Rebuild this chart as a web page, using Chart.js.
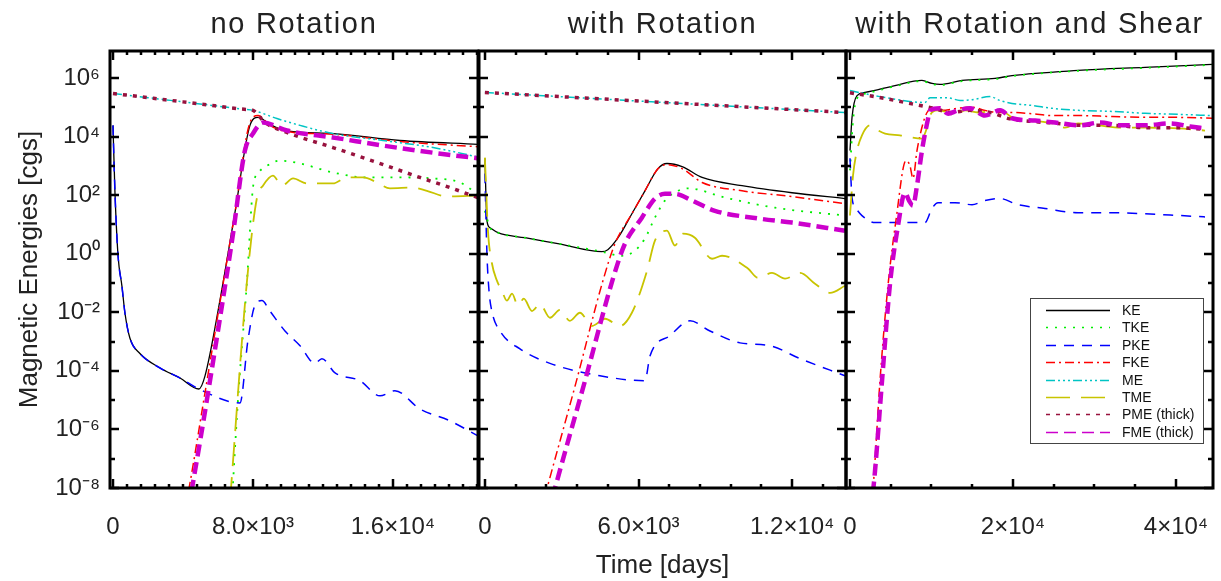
<!DOCTYPE html>
<html>
<head>
<meta charset="utf-8">
<script src="https://cdn.jsdelivr.net/npm/chart.js@4.4.1/dist/chart.umd.min.js"></script>
<style>
  body { margin: 0; background: #fff; }
  #wrap { position: relative; width: 1221px; height: 581px; }
  #wrap canvas { position: absolute; left: 0; top: 0; }
</style>
</head>
<body>
<div id="wrap">
  <canvas id="chart1" width="1221" height="581"></canvas>
  <canvas id="chart2" width="1221" height="581"></canvas>
  <canvas id="chart3" width="1221" height="581"></canvas>
</div>
<script>
// [time in days, energy in cgs]

// panel 1 : no Rotation
const noRotKE = [[0,2.4e4],[110,1.4e2],[290,0.85],[510,0.08],[690,8.9e-3],[970,1.3e-3],[1540,3.9e-4],[2690,1.25e-4],[3830,5.7e-5],[4910,2.4e-5],[5260,6.7e-5],[6110,0.025],[6970,25],[7830,2.4e4],[8290,4.5e4],[8970,2.6e4],[9830,1.6e4],[12570,1.26e4],[16400,7.3e3],[20860,5.4e3]];
const noRotTKE = [[6800,3.6e-9],[7140,9.4e-6],[7660,0.12],[8000,180],[8290,550],[8800,1.0e3],[9540,1.5e3],[10690,1.2e3],[12570,590],[14510,400],[16400,400],[18290,370],[19830,270],[20860,105]];
const noRotPKE = [[0,2.4e4],[110,1.4e2],[290,0.85],[510,0.08],[690,8.9e-3],[970,1.3e-3],[1540,3.9e-4],[2690,1.25e-4],[3830,5.7e-5],[4910,2.4e-5],[7260,8e-6],[7710,1.07e-3],[8110,0.017],[8510,0.025],[8970,0.011],[9830,2.3e-3],[10690,7.2e-4],[11540,1.8e-4],[11940,2.6e-4],[12690,8.5e-5],[14110,4.6e-5],[15260,1.4e-5],[16110,2.1e-5],[17540,5e-6],[19260,1.95e-6],[20860,6e-7]];
const noRotFKE = [[4110,1.9e-9],[4340,9.3e-9],[5260,1.8e-5],[6110,0.021],[6970,25],[7830,3e4],[8290,5.2e4],[8970,2.4e4],[9830,1.5e4],[12570,1.2e4],[16400,6.7e3],[20860,4.5e3]];
const noRotME = [[0,2.95e5],[2000,2.12e5],[4000,1.52e5],[6000,1.09e5],[7500,8.5e4],[8000,7.8e4],[9370,4.1e4],[10690,2.4e4],[12570,1.26e4],[15430,7.3e3],[18290,4.2e3],[20860,2.0e3]];
const noRotTME = [[6690,3.6e-9],[7660,0.12],[8230,82],[8570,210],[9140,460],[9660,210],[10290,370],[11090,250],[11830,250],[12570,250],[13370,400],[14290,400],[15090,270],[15830,170],[17140,180],[17940,140],[19090,90],[20860,96]];
const noRotPME = [[0,2.95e5],[2000,2.12e5],[4000,1.52e5],[6000,1.09e5],[7500,8.5e4],[8000,7.8e4],[8690,3.0e4],[10110,1.26e4],[12570,4.2e3],[15090,1.3e3],[17540,4.0e2],[19260,1.8e2],[20860,82]];
const noRotFME = [[4290,1.9e-9],[4510,9.3e-9],[6510,0.2],[6860,4.8],[7540,3.3e3],[8000,1.26e4],[8570,3e4],[9940,1.6e4],[12570,9.3e3],[15430,4.9e3],[18290,2.8e3],[20860,1.8e3]];

// panel 2 : with Rotation
const rotKE = [[0,1.8e3],[80,13.5],[200,7.7],[510,5.2],[1560,3.5],[2850,2.2],[4570,1.17],[4800,1.37],[5200,3.5],[5740,23],[6250,140],[6760,800],[7110,1.2e3],[7700,940],[8480,400],[10040,210],[11990,120],[14060,76]];
const rotTKE = [[0,29],[200,7.7],[510,5.2],[1560,3.5],[2850,2.2],[4570,1.17],[5350,0.85],[5860,1.27],[6250,3.3],[6640,17],[7030,65],[7540,140],[7930,170],[9380,82],[11330,37],[14060,20]];
const rotPKE = [[0,550],[80,1],[160,0.055],[270,0.011],[590,2.3e-3],[1370,5.6e-4],[2540,1.8e-4],[4490,6.8e-5],[6250,4.6e-5],[6450,3.3e-4],[7230,1.6e-3],[8010,5.1e-3],[8790,2.3e-3],[9960,9e-4],[11130,7.2e-4],[12310,2.6e-4],[14060,6.8e-5]];
const rotFKE = [[2150,1.2e-9],[2420,9.3e-9],[3520,3e-5],[4610,0.12],[5080,2.2],[5740,23],[6250,140],[6760,800],[7110,1.1e3],[7700,800],[8480,270],[10040,140],[11990,89],[14060,51]];
const rotME = [[0,3.2e5],[7030,1.45e5],[14060,6.6e4]];
const rotTME = [[0,1.9e3],[120,6.1],[270,0.49],[470,0.12],[660,0.055],[860,0.025],[1060,0.043],[1290,0.017],[1520,0.029],[1840,0.011],[2150,0.019],[2540,6.5e-3],[2930,0.012],[3320,5.1e-3],[3710,9.6e-3],[4180,3.4e-3],[4690,6e-3],[5270,3.4e-3],[5740,9.6e-3],[6330,0.26],[6640,2.8],[7110,6.1],[7420,1.9],[7730,4.8],[8200,3.5],[8870,0.67],[9260,0.85],[10270,0.31],[10660,0.15],[11210,0.22],[11720,0.14],[12310,0.22],[12890,0.094],[13480,0.046],[14060,0.08]];
const rotPME = [[0,3.2e5],[7030,1.45e5],[14060,6.6e4]];
const rotFME = [[2460,1.2e-9],[2730,9.3e-9],[3910,4.6e-5],[5000,0.14],[5470,2.2],[6130,17],[6640,76],[7030,110],[7420,110],[8090,65],[8980,29],[10660,16],[11990,11.5],[14060,6.1]];

// panel 3 : with Rotation and Shear
const shearKE = [[0,3.3e3],[250,4.5e4],[860,2.5e5],[1840,3.2e5],[5520,5.5e5],[8830,8.2e5],[10060,6.5e5],[11040,6e5],[13740,8.2e5],[17790,9.6e5],[19880,1.2e6],[27980,1.8e6],[36200,2.3e6],[44420,2.9e6]];
const shearTKE = [[0,700],[370,3.5e4],[860,2e5],[1840,2.9e5],[5520,5.2e5],[8830,7.8e5],[10060,6.2e5],[11040,5.7e5],[13740,7.8e5],[17790,9.2e5],[19880,1.15e6],[27980,1.75e6],[36200,2.2e6],[44420,2.8e6]];
const shearPKE = [[0,1.8e3],[250,82],[740,35],[1470,20],[3070,11.5],[5890,11.5],[9200,11.5],[10060,35],[10800,55],[12880,55],[14970,47],[16560,65],[18410,76],[20610,47],[23930,35],[27980,25],[32150,25],[36200,23],[40490,20],[43560,18]];
const shearFKE = [[2450,1.7e-9],[2820,9.3e-9],[3680,4.6e-5],[4660,0.08],[5640,13.5],[6870,1.5e3],[7360,1e3],[7730,370],[8220,3.3e3],[8960,2.8e4],[9450,6.6e4],[10060,9.2e4],[11290,7.8e4],[13250,9.2e4],[14970,1.0e5],[16560,7.8e4],[18160,6.6e4],[19880,6.6e4],[22330,6.0e4],[24790,5.2e4],[27980,5.2e4],[32150,4.8e4],[36200,4.5e4],[40250,4.5e4],[44420,4.2e4]];
const shearME = [[0,3.7e5],[3680,2.3e5],[9200,1.45e5],[9820,2.1e5],[12030,2.1e5],[13500,1.7e5],[14970,1.8e5],[17180,2.3e5],[18410,1.7e5],[19880,1.35e5],[22330,1.15e5],[24790,9.2e4],[27980,7.8e4],[32150,7.2e4],[36200,6.2e4],[40250,5.7e4],[44420,5.2e4]];
const shearTME = [[0,20],[370,460],[860,3.3e3],[1470,1.1e4],[2450,2.4e4],[3310,1.7e4],[4300,1.26e4],[6140,1.1e4],[8830,8.5e3],[9330,1.6e4],[9820,5.2e4],[10680,7.8e4],[12030,6.6e4],[12880,5.2e4],[14110,7.8e4],[15710,6.6e4],[18160,7.8e4],[19020,6.6e4],[19880,4.5e4],[22330,3.5e4],[24790,2.8e4],[26380,2.0e4],[27980,2.8e4],[30430,2.4e4],[33380,2.0e4],[36200,2.0e4],[40250,1.9e4],[43560,1.6e4]];
const shearPME = [[0,3.1e5],[3440,2.2e5],[7610,1.3e5],[9200,1.06e5],[10430,9e4],[12270,6.6e4],[14720,7.8e4],[17180,6.6e4],[19630,4e4],[22700,3.2e4],[25520,2.8e4],[28220,2.4e4],[32150,2.4e4],[36200,2.0e4],[40250,2.0e4],[43560,1.75e4]];
const shearFME = [[2580,1.6e-9],[3070,3.8e-8],[3930,4.6e-5],[4910,0.094],[5890,9],[6750,120],[7240,65],[7730,44],[8220,210],[8830,3.3e3],[9570,4e4],[9820,7.8e4],[11040,9.2e4],[12030,6e4],[13250,7.8e4],[14720,9.2e4],[16560,5.2e4],[18410,7.8e4],[19880,4.2e4],[22700,3.5e4],[25150,3.0e4],[28220,2.4e4],[30680,3.0e4],[33130,2.4e4],[36200,2.4e4],[39270,2.8e4],[41720,2.2e4],[43560,1.9e4]];

// tick values and labels
const yTickValues = [1e-8, 1e-6, 1e-4, 1e-2, 1, 1e2, 1e4, 1e6];
const noRotXTicks = [0, 8000, 16000];
const noRotXLabels = ['0', '8.0×10³', '1.6×10⁴'];
const rotXTicks = [0, 6000, 12000];
const rotXLabels = ['0', '6.0×10³', '1.2×10⁴'];
const shearXTicks = [0, 20000, 40000];
const shearXLabels = ['0', '2×10⁴', '4×10⁴'];

const seriesNames = ['KE', 'TKE', 'PKE', 'FKE', 'ME', 'TME', 'PME (thick)', 'FME (thick)'];
const seriesColors = ['#000000', '#00ee00', '#0000ff', '#ff0000', '#00c4c4', '#c8c400', '#98123e', '#cc00cc'];
const seriesDash = [[], [2, 7], [10, 8], [9, 4, 2, 4], [9, 3, 2, 3, 2, 3, 2, 3], [24, 11], [4, 6], [12, 6]];
const seriesWidth = [1.3, 1.8, 1.5, 1.5, 1.5, 1.8, 3.5, 4.5];

const FONT = '"Liberation Sans", Arial, Helvetica, sans-serif';
const SUP = {'-': '⁻', '0': '⁰', '1': '¹', '2': '²', '3': '³', '4': '⁴', '5': '⁵', '6': '⁶', '7': '⁷', '8': '⁸', '9': '⁹'};

function powLabel(v) {
    const e = String(Math.round(Math.log10(v)));
    return '10' + e.split('').map(c => SUP[c]).join('');
}

// frame, inward ticks, panel title and (panel 3) legend
const framePlugin = {
    id: 'frame',
    afterDatasetsDraw(chart, args, o) {
        const ctx = chart.ctx, a = chart.chartArea;
        const xs = chart.scales.x, ys = chart.scales.y;
        ctx.save();
        ctx.strokeStyle = '#000';
        ctx.lineWidth = 2.5;
        ctx.beginPath();
        const step = o.xStep / o.xMinor;
        for (let k = Math.ceil(xs.min / step); k * step <= xs.max; k++) {
            const px = Math.round(xs.getPixelForValue(k * step));
            const len = k % o.xMinor === 0 ? 9 : 4;
            ctx.moveTo(px, a.bottom); ctx.lineTo(px, a.bottom - len);
            ctx.moveTo(px, a.top); ctx.lineTo(px, a.top + len);
        }
        for (let e = -8; e <= 6; e++) {
            const py = Math.round(ys.getPixelForValue(Math.pow(10, e)));
            const len = e % 2 === 0 ? 9 : 5;
            ctx.moveTo(a.left, py); ctx.lineTo(a.left + len, py);
            ctx.moveTo(a.right, py); ctx.lineTo(a.right - len, py);
        }
        ctx.stroke();
        ctx.lineWidth = 3;
        ctx.strokeRect(a.left, a.top, a.right - a.left, a.bottom - a.top);

        // title
        ctx.font = '29px ' + FONT;
        ctx.letterSpacing = '1.7px';
        ctx.fillStyle = '#222';
        ctx.textAlign = 'center';
        ctx.textBaseline = 'alphabetic';
        ctx.fillText(o.title, (a.left + a.right) / 2, 33);
        ctx.letterSpacing = '0px';

        if (o.legend) {
            const bx = a.right - 183, by = a.bottom - 190, bw = 173, bh = 145;
            ctx.fillStyle = '#fff';
            ctx.fillRect(bx, by, bw, bh);
            ctx.lineWidth = 1;
            ctx.strokeStyle = '#444';
            ctx.strokeRect(bx + 0.5, by + 0.5, bw, bh);
            ctx.font = '14px ' + FONT;
            ctx.textAlign = 'left';
            ctx.textBaseline = 'middle';
            chart.data.datasets.forEach((ds, i) => {
                const ly = Math.round(by + 12 + i * 17.4) + 0.5;
                ctx.beginPath();
                ctx.setLineDash(ds.borderDash);
                ctx.strokeStyle = ds.borderColor;
                ctx.lineWidth = 1.3;
                ctx.moveTo(bx + 16, ly);
                ctx.lineTo(bx + 80, ly);
                ctx.stroke();
                ctx.setLineDash([]);
                ctx.fillStyle = '#111';
                ctx.fillText(ds.label, bx + 92, ly + 1);
            });
        }
        ctx.restore();
    }
};

function makeDatasets(series) {
    return series.map((pts, i) => ({
        label: seriesNames[i],
        data: pts.map(p => ({x: p[0], y: p[1]})),
        borderColor: seriesColors[i],
        borderWidth: seriesWidth[i],
        borderDash: seriesDash[i],
        pointRadius: 0,
        cubicInterpolationMode: 'monotone',
        fill: false,
        order: series.length - i
    }));
}

function makePanel(id, p) {
    const ctx = document.getElementById(id).getContext('2d');
    return new Chart(ctx, {
        type: 'line',
        data: { datasets: makeDatasets(p.series) },
        options: {
            responsive: false,
            animation: false,
            devicePixelRatio: 1,
            layout: { padding: { left: p.padLeft, right: p.padRight, top: 51, bottom: 0 } },
            plugins: {
                legend: { display: false },
                tooltip: { enabled: false },
                frame: { title: p.title, xStep: p.xTicks[1], xMinor: p.xMinor, legend: p.legend }
            },
            scales: {
                x: {
                    type: 'linear',
                    min: p.xMin,
                    max: p.xMax,
                    grid: { display: false, drawTicks: false },
                    border: { display: false },
                    ticks: {
                        autoSkip: false,
                        maxRotation: 0,
                        padding: 25,
                        color: '#222',
                        font: { family: FONT, size: 24 },
                        callback: (v, i) => p.xLabels[i]
                    },
                    afterBuildTicks: s => { s.ticks = p.xTicks.map(v => ({value: v})); },
                    afterFit: s => { s.height = 93; s.paddingLeft = 0; s.paddingRight = 0; },
                    title: {
                        display: !!p.xTitle,
                        text: p.xTitle || '',
                        color: '#222',
                        font: { family: FONT, size: 26 },
                        padding: { top: 0, bottom: 0 }
                    }
                },
                y: {
                    type: 'logarithmic',
                    min: 1e-8,
                    max: 8.3e6,
                    display: p.showY,
                    grid: { display: false, drawTicks: false },
                    border: { display: false },
                    ticks: {
                        autoSkip: false,
                        padding: 10,
                        color: '#222',
                        font: { family: FONT, size: 24 },
                        callback: v => powLabel(v)
                    },
                    afterBuildTicks: s => { s.ticks = yTickValues.map(v => ({value: v})); },
                    afterFit: s => { s.width = p.showY ? 110 : 0; s.paddingTop = 0; s.paddingBottom = 0; },
                    title: {
                        display: p.showY,
                        text: 'Magnetic Energies [cgs]',
                        color: '#222',
                        font: { family: FONT, size: 26 },
                        padding: { top: 14, bottom: 0 }
                    }
                }
            }
        },
        plugins: [framePlugin]
    });
}

document.addEventListener('DOMContentLoaded', function() {
    makePanel('chart1', {
        title: 'no Rotation',
        series: [noRotKE, noRotTKE, noRotPKE, noRotFKE, noRotME, noRotTME, noRotPME, noRotFME],
        xMin: -170, xMax: 20860, xTicks: noRotXTicks, xLabels: noRotXLabels, xMinor: 10,
        padLeft: 0, padRight: 743, showY: true
    });
    makePanel('chart2', {
        title: 'with Rotation',
        series: [rotKE, rotTKE, rotPKE, rotFKE, rotME, rotTME, rotPME, rotFME],
        xMin: -230, xMax: 14100, xTicks: rotXTicks, xLabels: rotXLabels, xMinor: 5,
        padLeft: 479, padRight: 375, showY: false, xTitle: 'Time [days]'
    });
    makePanel('chart3', {
        title: 'with Rotation and Shear',
        series: [shearKE, shearTKE, shearPKE, shearFKE, shearME, shearTME, shearPME, shearFME],
        xMin: -490, xMax: 44540, xTicks: shearXTicks, xLabels: shearXLabels, xMinor: 4,
        padLeft: 846, padRight: 8, showY: false, legend: true
    });
});
</script>
</body>
</html>
